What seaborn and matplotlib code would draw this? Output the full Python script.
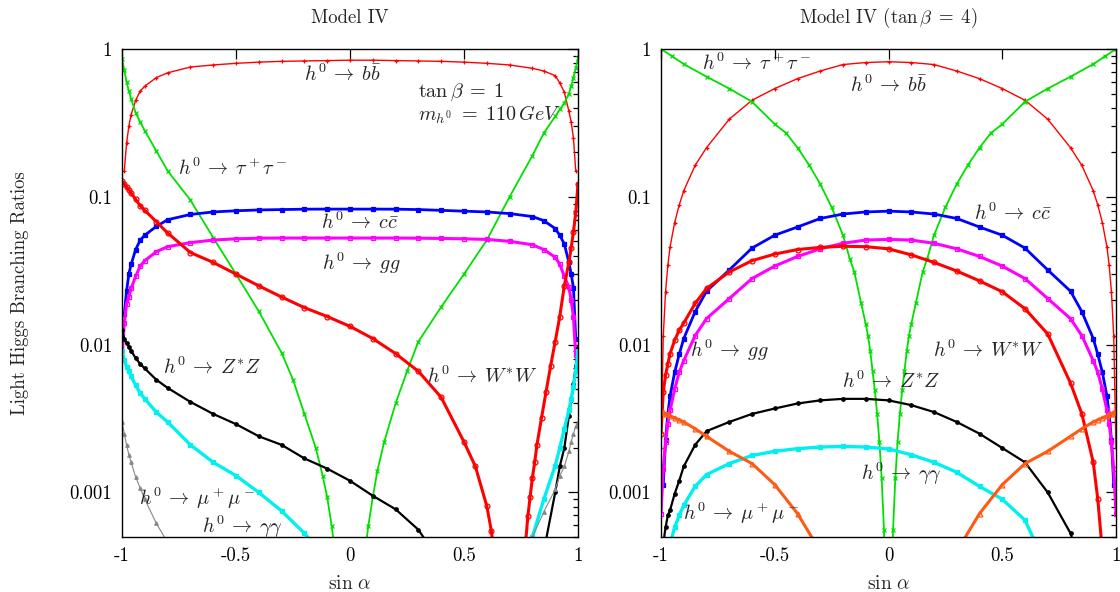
import numpy as np
import pandas as pd
import matplotlib
matplotlib.use("Agg")
from matplotlib import pyplot as plt
from matplotlib.ticker import FixedLocator, FixedFormatter, LogLocator, NullFormatter
import seaborn as sns

sns.set_theme(style="white")
plt.rcParams['font.family'] = ['cmr10', 'DejaVu Serif']
plt.rcParams['mathtext.fontset'] = 'cm'
plt.rcParams['axes.unicode_minus'] = False
plt.rcParams['axes.formatter.use_mathtext'] = True

nan = np.nan

# ---- Panel 1: Model IV, tan(beta) = 1 ----
sina_1 = [-1, -0.99, -0.98, -0.97, -0.96, -0.94, -0.92, -0.9, -0.85, -0.8, -0.7, -0.6, -0.5, -0.4,
          -0.3, -0.2, -0.1, 0, 0.1, 0.2, 0.3, 0.4, 0.5, 0.6, 0.7, 0.8, 0.85, 0.9, 0.92, 0.94, 0.96,
          0.97, 0.98, 0.99, 1]
bb_1 = [nan, 0.15, 0.23, 0.30, 0.36, 0.45, 0.52, 0.56, 0.64, 0.69, 0.755, 0.78, 0.80, 0.815, 0.825,
        0.83, 0.835, 0.84, 0.84, 0.835, 0.83, 0.825, 0.815, 0.80, 0.78, 0.74, 0.71, 0.66, 0.59, 0.51,
        0.38, 0.32, 0.25, 0.15, nan]
cc_1 = [nan, 0.016, 0.023, 0.030, 0.035, 0.044, 0.051, 0.055, 0.063, 0.070, 0.076, 0.079, 0.0805,
        0.0815, 0.082, 0.0825, 0.0826, 0.0826, 0.0826, 0.0825, 0.082, 0.081, 0.080, 0.079, 0.077,
        0.0736, 0.069, 0.061, 0.055, 0.048, 0.036, 0.030, 0.0243, 0.011, nan]
gg_1 = [0.008, 0.014, 0.0188, 0.021, 0.024, 0.029, 0.034, 0.037, 0.0425, 0.046, 0.049, 0.051, 0.052,
        0.0525, 0.0526, 0.0526, 0.0526, 0.0526, 0.0526, 0.0526, 0.0525, 0.0523, 0.052, 0.0515, 0.050,
        0.0474, 0.044, 0.039, 0.035, 0.029, 0.0245, 0.020, 0.0155, 0.0085, nan]
zz_1 = [0.0125, 0.011, 0.0102, 0.0097, 0.0091, 0.0081, 0.0074, 0.0069, 0.0058, 0.0051, 0.0041, 0.0034,
        0.0029, 0.0024, 0.0021, 0.0017, 0.00145, 0.0012, 0.00095, 0.00077, 0.00056, 0.00033, 0.00015,
        0.00005, 0.00003, 0.00012, 0.0004, 0.0010, 0.0015, 0.0020, 0.0033, 0.0042, 0.0054, 0.0072, 0.0095]
gam_1 = [0.009, 0.0079, 0.0071, 0.0066, 0.0061, 0.0053, 0.0047, 0.0043, 0.0035, 0.0030, 0.0021, 0.0016,
         0.0013, 0.0010, 0.00075, 0.00053, 0.00035, 0.0002, 0.0001, 0.00005, 0.00003, 0.00002, 0.00002,
         0.00003, 0.00012, 0.0005, 0.0009, 0.00152, 0.0020, 0.0027, 0.0036, 0.0043, 0.0052, 0.0066, 0.009]
mu_1 = [0.0030, 0.0025, 0.0021, 0.0018, 0.0016, 0.00127, 0.00107, 0.0009, 0.00062, 0.00046, 0.0003,
        0.00018, 0.0001, 0.00006, 0.00003, 0.00001, 0.000003, nan, 0.000003, 0.00001, 0.00003, 0.00006,
        0.0001, 0.00018, 0.00033, 0.0005, 0.00074, 0.00105, 0.0013, 0.0015, 0.0019, 0.0022, 0.0025,
        0.0028, 0.0030]
sina_tau_1 = [-1, -0.99, -0.98, -0.97, -0.96, -0.94, -0.92, -0.9, -0.85, -0.8, -0.7, -0.6, -0.5, -0.4,
              -0.3, -0.25, -0.2, -0.15, -0.12, -0.1, -0.08, -0.06, -0.04, 0.04, 0.06, 0.08, 0.1, 0.12,
              0.15, 0.2, 0.25, 0.3, 0.4, 0.5, 0.6, 0.7, 0.8, 0.85, 0.9, 0.92, 0.94, 0.96, 0.97, 0.98,
              0.99, 1]
tau_1 = [0.86, 0.72, 0.60, 0.52, 0.46, 0.37, 0.32, 0.28, 0.205, 0.15, 0.095, 0.053, 0.030, 0.0168,
         0.0088, 0.0058, 0.0034, 0.0020, 0.0013, 0.00093, 0.00059, 0.00033, 0.00015, 0.00015, 0.00033,
         0.00059, 0.00093, 0.0014, 0.0022, 0.0040, 0.0066, 0.0105, 0.018, 0.030, 0.051, 0.10, 0.19,
         0.27, 0.35, 0.39, 0.43, 0.50, 0.56, 0.64, 0.74, 0.87]
sina_ww_1 = [-1, -0.99, -0.98, -0.97, -0.96, -0.94, -0.92, -0.9, -0.85, -0.8, -0.7, -0.6, -0.5, -0.4,
             -0.3, -0.2, -0.1, 0, 0.1, 0.2, 0.3, 0.4, 0.5, 0.55, 0.6, 0.62, 0.64, 0.66, 0.7, 0.74, 0.76,
             0.78, 0.79, 0.8, 0.81, 0.82, 0.84, 0.86, 0.88, 0.9, 0.92, 0.94, 0.96, 0.97, 0.98, 0.99, 1]
ww_1 = [0.127, 0.122, 0.117, 0.112, 0.106, 0.096, 0.087, 0.081, 0.068, 0.057, 0.042, 0.036, 0.030,
        0.025, 0.021, 0.0178, 0.0155, 0.0133, 0.0110, 0.0087, 0.0066, 0.0044, 0.0022, 0.0015, 0.00081,
        0.00055, 0.0003, 0.00012, 0.00001, 0.0001, 0.0003, 0.00069, 0.00093, 0.00126, 0.0016, 0.0021,
        0.0032, 0.0048, 0.0072, 0.0105, 0.0155, 0.025, 0.036, 0.045, 0.058, 0.0776, 0.122]

# ---- Panel 2: Model IV, tan(beta) = 4 ----
sina_2 = sina_1
bb_2 = [0.002, 0.0114, 0.0228, 0.0344, 0.046, 0.067, 0.088, 0.11, 0.163, 0.215, 0.335, 0.45, 0.54,
        0.63, 0.71, 0.785, 0.81, 0.82, 0.81, 0.785, 0.71, 0.63, 0.54, 0.45, 0.335, 0.215, 0.163, 0.11,
        0.088, 0.067, 0.046, 0.0344, 0.0228, 0.0114, 0.002]
cc_2 = [nan, 0.00113, 0.00225, 0.0034, 0.0045, 0.0065, 0.0086, 0.0110, 0.0167, 0.023, 0.032, 0.045,
        0.055, 0.0625, 0.0714, 0.0765, 0.079, 0.080, 0.079, 0.0765, 0.0714, 0.0625, 0.055, 0.045, 0.032,
        0.023, 0.0167, 0.0110, 0.0086, 0.0065, 0.0045, 0.0034, 0.00225, 0.00113, nan]
gg_2 = [0.00072, 0.00145, 0.0022, 0.0029, 0.0036, 0.0050, 0.0065, 0.0078, 0.0115, 0.0150, 0.0205,
        0.028, 0.034, 0.0395, 0.0445, 0.0485, 0.051, 0.0515, 0.051, 0.0485, 0.0445, 0.0395, 0.034, 0.028,
        0.0205, 0.0150, 0.0115, 0.0078, 0.0065, 0.0050, 0.0036, 0.0029, 0.0022, 0.00145, 0.00072]
ww_2 = [0.0025, 0.0048, 0.0062, 0.0074, 0.0087, 0.0107, 0.0125, 0.0140, 0.019, 0.024, 0.031, 0.037,
        0.041, 0.044, 0.0455, 0.0463, 0.046, 0.0445, 0.0405, 0.036, 0.0315, 0.027, 0.0228, 0.0175, 0.0118,
        0.0055, 0.0034, 0.0016, 0.0009, 0.0004, 0.0001, 0.00003, nan, nan, nan]
zz_2 = [nan, 0.00045, 0.00058, 0.0007, 0.00076, 0.00098, 0.0012, 0.0015, 0.0021, 0.0026, 0.0030, 0.0034,
        0.0037, 0.0040, 0.0042, 0.0043, 0.0043, 0.0042, 0.0039, 0.0035, 0.0030, 0.0025, 0.0020, 0.0016,
        0.0010, 0.00053, 0.0003, 0.00012, 0.00006, 0.00002, nan, nan, nan, nan, nan]
gam_2 = [nan, nan, nan, 0.0004, 0.00045, 0.00058, 0.0007, 0.00082, 0.0011, 0.00132, 0.00157, 0.00178,
         0.0019, 0.00198, 0.00203, 0.00205, 0.00203, 0.00197, 0.0018, 0.0016, 0.00137, 0.0011, 0.0009,
         0.00065, 0.0003, 0.0001, nan, nan, nan, nan, nan, nan, nan, nan, nan]
mu_2 = [0.0035, 0.0035, 0.0034, 0.0034, 0.0033, 0.0032, 0.0031, 0.0030, 0.0027, 0.0024, 0.0019, 0.00157,
        0.00113, 0.00072, 0.0004, 0.0002, 0.00005, nan, 0.00005, 0.0002, 0.0004, 0.00072, 0.00113,
        0.00157, 0.0019, 0.0024, 0.0027, 0.0030, 0.0031, 0.0032, 0.0033, 0.0034, 0.0034, 0.0035, 0.0035]
sina_tau_2 = [-1, -0.95, -0.9, -0.8, -0.7, -0.6, -0.5, -0.45, -0.4, -0.35, -0.3, -0.25, -0.2, -0.17,
              -0.15, -0.12, -0.1, -0.09, -0.08, -0.07, -0.06, -0.05, -0.04, -0.03, -0.02, -0.01, 0.01,
              0.02, 0.03, 0.04, 0.05, 0.06, 0.07, 0.08, 0.09, 0.1, 0.12, 0.15, 0.17, 0.2, 0.25, 0.3,
              0.35, 0.4, 0.45, 0.5, 0.6, 0.7, 0.8, 0.9, 0.95, 1]
tau_2 = [1.0, 0.89, 0.79, 0.65, 0.54, 0.44, 0.31, 0.27, 0.215, 0.165, 0.122, 0.085, 0.055, 0.038, 0.031,
         0.019, 0.0138, 0.0115, 0.009, 0.0066, 0.0049, 0.0034, 0.0022, 0.00125, 0.00056, 0.00014,
         0.00014, 0.00056, 0.00125, 0.0022, 0.0034, 0.0049, 0.0066, 0.009, 0.0115, 0.0138, 0.019, 0.031,
         0.038, 0.055, 0.085, 0.122, 0.165, 0.215, 0.27, 0.31, 0.44, 0.54, 0.65, 0.79, 0.89, 1.0]

y_ticks = [0.001, 0.01, 0.1, 1]
y_tick_labels = ["0.001", "0.01", "0.1", "1"]
x_ticks = [-1, -0.5, 0, 0.5, 1]
x_tick_labels = ["-1", "-0.5", "0", "0.5", "1"]

RED = "#ff0000"
GREEN = "#00e000"
BLUE = "#0000ff"
MAGENTA = "#ff00ff"
CYAN = "#00f0f0"
GREY = "#888888"
ORANGE = "#ff5a14"


def draw(ax, x, y, color, marker, lw, ms, hollow=False):
    # One series, drawn as a line with its marker at each read point
    d = pd.DataFrame({"x": x, "y": y}).dropna()
    sns.lineplot(data=d, x="x", y="y", ax=ax, color=color, linewidth=lw, sort=False,
                 estimator=None, marker=marker, markersize=ms,
                 markeredgecolor=color, markeredgewidth=0.9,
                 markerfacecolor="none" if hollow else color)


def style_axes(ax):
    ax.set_yscale("log")
    ax.set_xlim(-1, 1)
    ax.set_ylim(0.0005, 1)
    ax.yaxis.set_major_locator(FixedLocator(y_ticks))
    ax.yaxis.set_major_formatter(FixedFormatter(y_tick_labels))
    ax.yaxis.set_minor_locator(LogLocator(base=10, subs=np.arange(2, 10)))
    ax.yaxis.set_minor_formatter(NullFormatter())
    ax.xaxis.set_major_locator(FixedLocator(x_ticks))
    ax.xaxis.set_major_formatter(FixedFormatter(x_tick_labels))
    ax.tick_params(which="both", direction="in", top=True, right=True, colors="black",
                   labelsize=13.5, width=0.9)
    ax.tick_params(which="major", length=7, pad=7)
    ax.tick_params(which="minor", length=3.5)
    for s in ax.spines.values():
        s.set_color("black")
        s.set_linewidth(1.0)
    ax.set_ylabel("")
    ax.set_xlabel(r"$\sin\,\alpha$", fontsize=14)
    ax.xaxis.set_label_coords(0.5, -0.078)


fig = plt.figure(figsize=(11.2, 5.92), dpi=100)
ax1 = fig.add_axes([122 / 1120, 55 / 592, 456 / 1120, 488 / 592])
ax2 = fig.add_axes([661 / 1120, 55 / 592, 455 / 1120, 488 / 592])

# Panel 1
draw(ax1, sina_1, bb_1, RED, "+", 1.0, 3)
draw(ax1, sina_tau_1, tau_1, GREEN, "x", 1.3, 3)
draw(ax1, sina_1, cc_1, BLUE, "s", 2.0, 2.5)
draw(ax1, sina_1, gg_1, MAGENTA, "s", 2.2, 3.5, hollow=True)
draw(ax1, sina_ww_1, ww_1, RED, "o", 2.2, 3.5, hollow=True)
draw(ax1, sina_1, zz_1, "black", "o", 1.6, 2.5)
draw(ax1, sina_1, gam_1, CYAN, "s", 2.4, 3)
draw(ax1, sina_1, mu_1, GREY, "^", 0.8, 2.5)

# Panel 2
draw(ax2, sina_2, bb_2, RED, "+", 1.0, 3)
draw(ax2, sina_tau_2, tau_2, GREEN, "x", 1.3, 3)
draw(ax2, sina_2, cc_2, BLUE, "s", 2.0, 2.5)
draw(ax2, sina_2, gg_2, MAGENTA, "s", 2.2, 3.5, hollow=True)
draw(ax2, sina_2, ww_2, RED, "o", 2.2, 3.5, hollow=True)
draw(ax2, sina_2, zz_2, "black", "o", 1.6, 2.5)
draw(ax2, sina_2, gam_2, CYAN, "s", 2.4, 3)
draw(ax2, sina_2, mu_2, ORANGE, "^", 2.2, 3.5, hollow=True)

style_axes(ax1)
style_axes(ax2)

ax1.set_ylabel("Light Higgs Branching Ratios", fontsize=13.5)
ax1.yaxis.set_label_coords(-0.205, 0.5)

ax1.text(0.5, 1.0635, "Model IV", transform=ax1.transAxes, ha="center", va="center", fontsize=13.5)
ax2.text(0.5, 1.0635, r"Model IV ($\tan\beta\;=\;4$)", transform=ax2.transAxes, ha="center",
         va="center", fontsize=13.5)

# Curve labels, panel 1
fs = 14.5
ar = r"\:\rightarrow\:"
ax1.text(-0.03, 0.67, r"$h^0" + ar + r"b\bar{b}$", ha="center", va="center", fontsize=fs)
ax1.text(0.30, 0.51, r"$\tan\beta\;=\;1$", ha="left", va="center", fontsize=fs)
ax1.text(0.30, 0.36, r"$m_{h^0}\;=\;110\,GeV$", ha="left", va="center", fontsize=fs)
ax1.text(-0.754, 0.157, r"$h^0" + ar + r"\tau^+\tau^-$", ha="left", va="center", fontsize=fs)
ax1.text(0.044, 0.067, r"$h^0" + ar + r"c\bar{c}$", ha="center", va="center", fontsize=fs)
ax1.text(0.048, 0.0358, r"$h^0" + ar + r"gg$", ha="center", va="center", fontsize=fs)
ax1.text(-0.606, 0.0070, r"$h^0" + ar + r"Z^{*}Z$", ha="center", va="center", fontsize=fs)
ax1.text(0.58, 0.0061, r"$h^0" + ar + r"W^{*}W$", ha="center", va="center", fontsize=fs)
ax1.text(-0.67, 0.00091, r"$h^0" + ar + r"\mu^+\mu^-$", ha="center", va="center", fontsize=fs)
ax1.text(-0.47, 0.00059, r"$h^0" + ar + r"\gamma\gamma$", ha="center", va="center", fontsize=fs)

# Curve labels, panel 2
ax2.text(-0.58, 0.80, r"$h^0" + ar + r"\tau^+\tau^-$", ha="center", va="center", fontsize=fs)
ax2.text(0.0, 0.57, r"$h^0" + ar + r"b\bar{b}$", ha="center", va="center", fontsize=fs)
ax2.text(0.545, 0.0772, r"$h^0" + ar + r"c\bar{c}$", ha="center", va="center", fontsize=fs)
ax2.text(-0.70, 0.0092, r"$h^0" + ar + r"gg$", ha="center", va="center", fontsize=fs)
ax2.text(0.44, 0.0092, r"$h^0" + ar + r"W^{*}W$", ha="center", va="center", fontsize=fs)
ax2.text(0.01, 0.00565, r"$h^0" + ar + r"Z^{*}Z$", ha="center", va="center", fontsize=fs)
ax2.text(0.055, 0.00134, r"$h^0" + ar + r"\gamma\gamma$", ha="center", va="center", fontsize=fs)
ax2.text(-0.65, 0.00072, r"$h^0" + ar + r"\mu^+\mu^-$", ha="center", va="center", fontsize=fs)

fig.savefig("out.png", dpi=100, facecolor="white")
